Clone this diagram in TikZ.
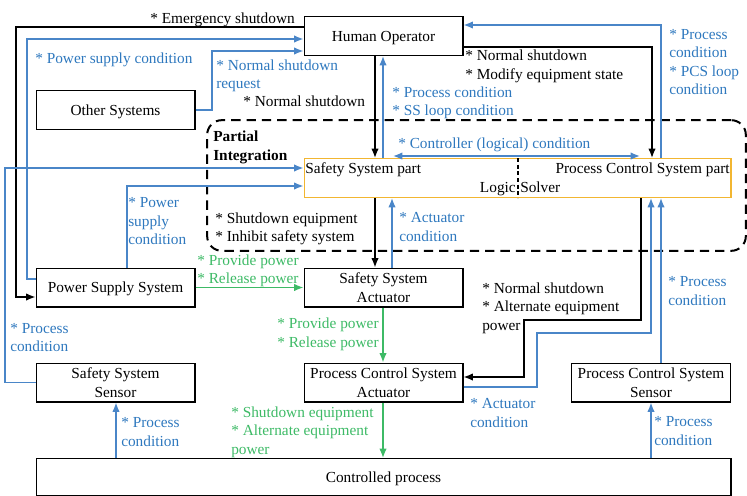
\documentclass[tikz,border=0pt]{standalone}
\usepackage{fontspec}
\setmainfont{Liberation Serif}
\usetikzlibrary{arrows.meta, positioning, calc, shadows}
\definecolor{condblue}{HTML}{4A86C8}
\definecolor{condtext}{HTML}{2E78BE}
\definecolor{powergreen}{HTML}{3DBA66}
\definecolor{solverorange}{HTML}{F2B631}

\begin{document}
\begin{tikzpicture}[x=0.75pt, y=-0.75pt,
  every node/.style={font=\fontsize{11.5}{13.9}\selectfont},
  unit/.style={draw=black, line width=1pt, fill=white, align=center,
               minimum width=119pt, minimum height=29pt, inner sep=1pt, text depth=0pt,
               drop shadow={shadow xshift=0.8pt, shadow yshift=-0.8pt, opacity=0.35}},
  solver/.style={unit, draw=solverorange, minimum width=320pt},
  cmd/.style={draw=black, line width=1pt, -{Latex[length=7pt, width=5.5pt]}},
  fb/.style={draw=condblue, line width=1pt, -{Latex[length=7pt, width=5.5pt]}},
  pwr/.style={draw=powergreen, line width=1pt, -{Latex[length=7pt, width=5.5pt]}},
  lbl/.style={anchor=west, align=left, inner sep=0pt, text depth=0pt},
  fblbl/.style={lbl, text=condtext},
  pwrlbl/.style={lbl, text=powergreen},
  integration/.style={draw=black, line width=1.5pt, dash pattern=on 7pt off 4.5pt,
                      rounded corners=11pt, minimum width=404pt, minimum height=98pt},
]
  \useasboundingbox (0,0) rectangle (747,496);

  % Partial integration region
  \node[integration] (pi) at (476.5,185.5) {};
  \node[lbl, font=\fontsize{11.5}{13.9}\selectfont\bfseries] (pilbl) at (213,145.5) {Partial\\Integration};

  % Units
  \node[unit] (ho) at (383.5,36) {Human Operator};
  \node[unit] (oth) at (115.5,110) {Other Systems};
  \node[solver] (ls) at (517.5,178) {};
  \node[unit] (pss) at (115.5,287.5) {Power Supply System};
  \node[unit] (ssa) at (383.5,287.5) {Safety System\\Actuator};
  \node[unit] (sss) at (115.5,382.5) {Safety System\\Sensor};
  \node[unit] (pcsa) at (383.5,382.5) {Process Control System\\Actuator};
  \node[unit] (pcss) at (651,382.5) {Process Control System\\Sensor};
  \node[unit, minimum width=521pt, minimum height=27.5pt] (cp) at (383.5,477) {Controlled process};

  % Logic solver parts
  \draw[black, line width=0.8pt, dash pattern=on 3pt off 2pt] (ls.north -| 518,0) -- (ls.south -| 518,0);
  \node[lbl] (ssp) at (305,168) {Safety System part};
  \node[lbl, anchor=east] (pcsp) at (730,168) {Process Control System part};
  \node[lbl, anchor=east] (lsa) at (516,187) {Logic};
  \node[lbl] (lsb) at (520,187) {Solver};
  \coordinate (ctlL) at (393,156);
  \coordinate (ctlR) at (640,156);

  % Human operator links
  \draw[cmd] (ho.west |- 0,27) -- (16,27) |- (pss.west |- 0,297);
  \node[lbl] (l1) at (150,18) {* Emergency shutdown};
  \draw[fb] (pss.west |- 0,279) -| (27,39) -- (ho.west |- 0,39);
  \node[fblbl] (l2) at (35,58) {* Power supply condition};
  \draw[fb] (oth.east) -| (212,51) -- (ho.west |- 0,51);
  \node[fblbl] (l3) at (216,74) {* Normal shutdown\\request};
  \draw[cmd] (ho.south -| 375,0) -- (ls.north -| 375,0);
  \node[lbl] (l4) at (243,101) {* Normal shutdown};
  \draw[fb] (ls.north -| 383,0) -- (ho.south -| 383,0);
  \node[fblbl] (l5) at (392,101) {* Process condition\\* SS loop condition};
  \draw[cmd] (ho.east |- 0,47) -| (ls.north -| 652,0);
  \node[lbl] (l6) at (465,64.5) {* Normal shutdown\\* Modify equipment state};
  \draw[fb] (ls.north -| 661,0) |- (ho.east |- 0,25);
  \node[fblbl] (l7) at (669,62) {* Process\\condition\\* PCS loop\\condition};

  % Controller condition
  \draw[fb, {Latex[length=7pt, width=5.5pt]}-{Latex[length=7pt, width=5.5pt]}] (ctlL) -- (ctlR);
  \node[fblbl] (l8) at (398,143) {* Controller (logical) condition};

  % Inputs to the safety system part
  \draw[fb] (sss.west) -| (5,168) -- (ls.west |- 0,168);
  \node[fblbl] (l9) at (10,337.5) {* Process\\condition};
  \draw[fb] (pss.north -| 127,0) |- (ls.west |- 0,186);
  \node[fblbl] (l10) at (128,221) {* Power\\supply\\condition};

  % Safety system actuator
  \draw[cmd] (ls.south -| 375,0) -- (ssa.north -| 375,0);
  \node[lbl] (l11) at (215,227) {* Shutdown equipment\\* Inhibit safety system};
  \draw[fb] (ssa.north -| 392,0) -- (ls.south -| 392,0);
  \node[fblbl] (l12) at (399,227) {* Actuator\\condition};
  \draw[pwr] (pss) -- (ssa);
  \node[pwrlbl] (l13) at (197,269) {* Provide power\\* Release power};
  \draw[pwr] (ssa.south -| 383,0) -- (pcsa.north -| 383,0);
  \node[pwrlbl] (l14) at (277,332.5) {* Provide power\\* Release power};

  % Process control system actuator
  \draw[cmd] (ls.south -| 641,0) |- (524,320) |- (pcsa.east |- 0,377);
  \node[lbl] (l15) at (482,306.5) {* Normal shutdown\\* Alternate equipment\\power};
  \draw[fb] (pcsa.east |- 0,387) -| (537,333) -| (ls.south -| 651,0);
  \node[fblbl] (l16) at (470,413) {* Actuator\\condition};
  \draw[fb] (pcss.north -| 661,0) -- (ls.south -| 661,0);
  \node[fblbl] (l17) at (668,291) {* Process\\condition};
  \draw[pwr] (pcsa.south -| 383,0) -- (cp.north -| 383,0);
  \node[pwrlbl] (l18) at (231,430.5) {* Shutdown equipment\\* Alternate equipment\\power};

  % Sensors
  \draw[fb] (cp.north -| 116,0) -- (sss.south -| 116,0);
  \node[fblbl] (l19) at (121,432) {* Process\\condition};
  \draw[fb] (cp.north -| 651,0) -- (pcss.south -| 651,0);
  \node[fblbl] (l20) at (654,431) {* Process\\condition};
\end{tikzpicture}
\end{document}
